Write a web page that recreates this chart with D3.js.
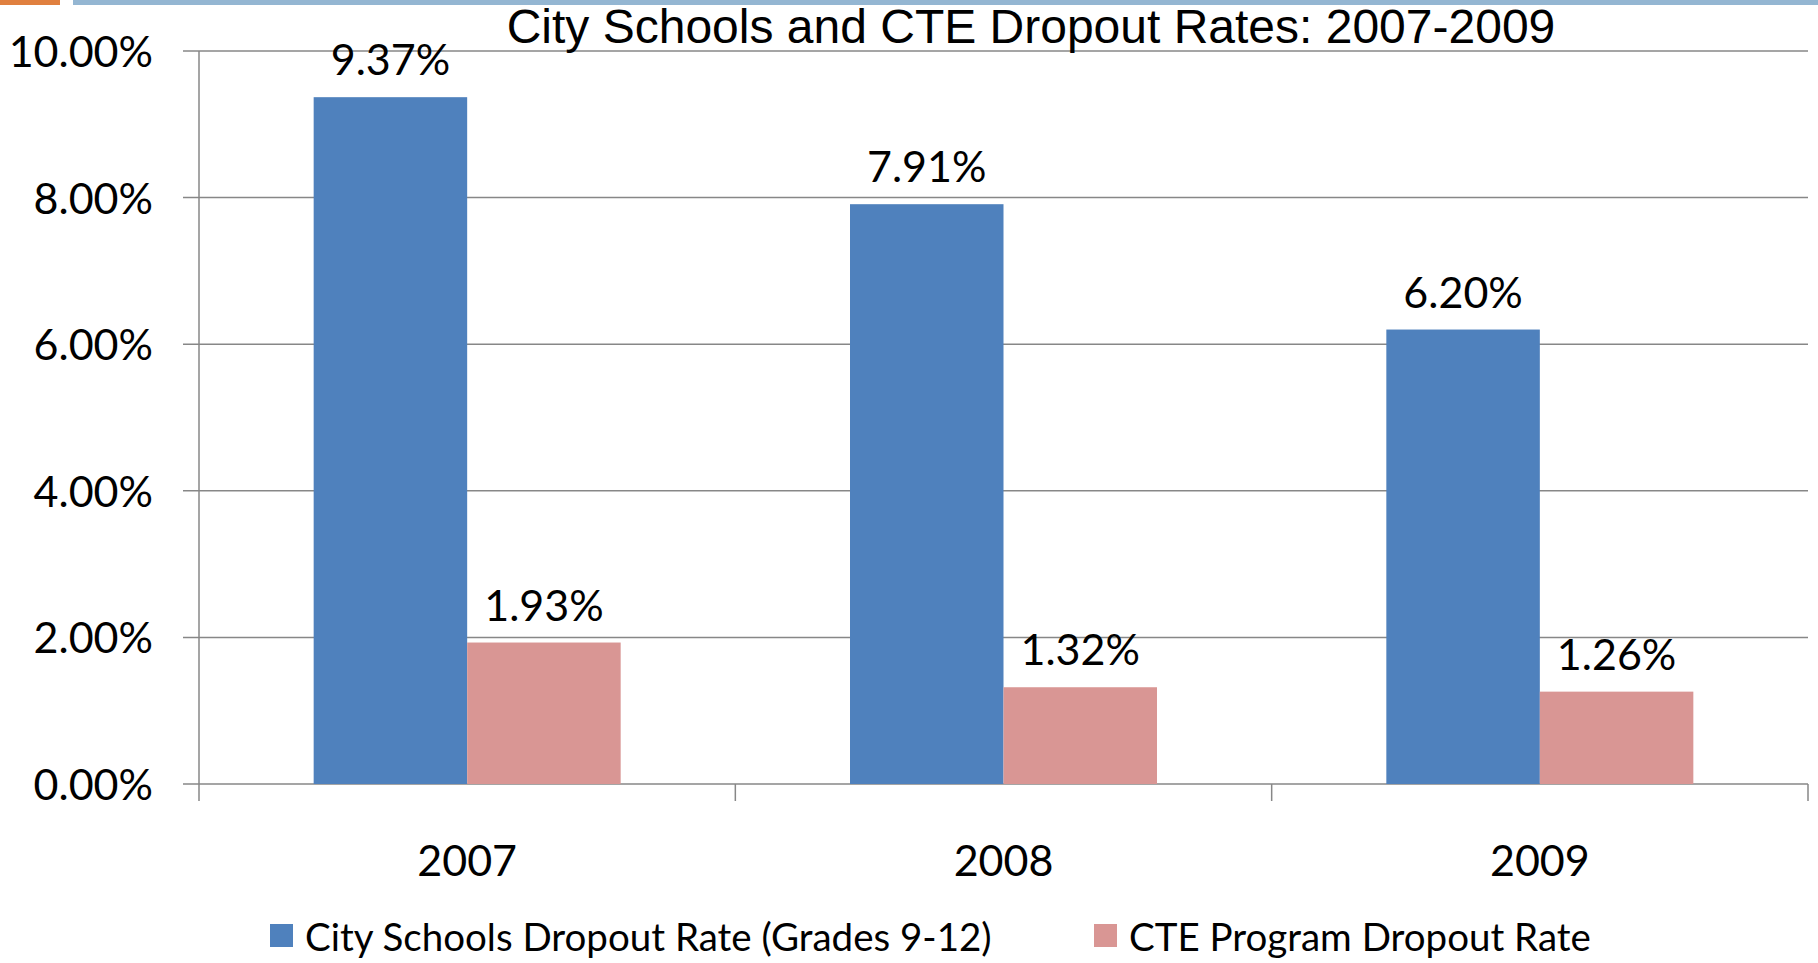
<!DOCTYPE html>
<html>
<head>
<meta charset="utf-8">
<script src="https://cdn.jsdelivr.net/npm/d3@7"></script>
<style>
  body { margin: 0; background: #fff; }
  svg { display: block; }
</style>
</head>
<body>
<svg id="chart" width="1818" height="963"></svg>
<script>
// chart data
var categories = ['2007', '2008', '2009']
var seriesNames = ['City Schools Dropout Rate (Grades 9-12)', 'CTE Program Dropout Rate']
var cityRates = [9.37, 7.91, 6.20]
var cteRates = [1.93, 1.32, 1.26]
var yTicks = [0, 2, 4, 6, 8, 10]
var colors = ['#4F81BD', '#D99694']

var margin = { top: 51, right: 10, bottom: 179, left: 199 }
var W = 1818, H = 963
var labelFont = 'Lato, Carlito, Calibri, sans-serif'
var labelSize = 43

var svg = d3.select('#chart')

// header strips
svg.append('rect').attr('x', 0).attr('y', 0).attr('width', 60).attr('height', 5).attr('fill', '#E0803F')
svg.append('rect').attr('x', 73).attr('y', 0).attr('width', W - 73).attr('height', 5).attr('fill', '#94B6D2')

var x = d3.scaleBand()
  .domain(categories)
  .range([margin.left, W - margin.right])

var xs = d3.scaleBand()
  .domain(seriesNames)
  .range([0, x.bandwidth()])
  .paddingOuter(0.747)

var y = d3.scaleLinear()
  .domain([0, 10])
  .range([H - margin.bottom, margin.top])

var gridColor = '#878787'

// gridlines
svg.append('g')
  .selectAll('line')
  .data(yTicks)
  .join('line')
  .attr('x1', margin.left - 16)
  .attr('x2', W - margin.right)
  .attr('y1', d => y(d))
  .attr('y2', d => y(d))
  .attr('stroke', gridColor)
  .attr('stroke-width', 1.5)

// y labels
var yAxis = d3.axisLeft(y)
  .tickValues(yTicks)
  .tickFormat(d => d3.format('.2f')(d) + '%')
  .tickSize(0)
  .tickPadding(0)

svg.append('g')
  .attr('transform', 'translate(153,0)')
  .call(yAxis)
  .call(g => g.select('.domain').remove())
  .selectAll('text')
  .attr('font-family', labelFont)
  .attr('font-size', labelSize)
  .attr('fill', '#000')
  .attr('dy', '0.36em')

// bars
var rows = categories.map((c, i) => ({ cat: c, vals: [cityRates[i], cteRates[i]] }))

var groups = svg.append('g')
  .selectAll('g')
  .data(rows)
  .join('g')
  .attr('transform', d => 'translate(' + x(d.cat) + ',0)')

groups.selectAll('rect')
  .data(d => d.vals.map((v, j) => ({ name: seriesNames[j], v: v, j: j })))
  .join('rect')
  .attr('x', d => xs(d.name))
  .attr('width', xs.bandwidth())
  .attr('y', d => y(d.v))
  .attr('height', d => y(0) - y(d.v))
  .attr('fill', d => colors[d.j])

groups.selectAll('text.val')
  .data(d => d.vals.map((v, j) => ({ name: seriesNames[j], v: v })))
  .join('text')
  .attr('class', 'val')
  .attr('x', d => xs(d.name) + xs.bandwidth() / 2)
  .attr('y', d => y(d.v) - 22)
  .attr('text-anchor', 'middle')
  .attr('font-family', labelFont)
  .attr('font-size', labelSize)
  .text(d => d3.format('.2f')(d.v) + '%')

// axes lines
var y0 = y(0)
svg.append('line')
  .attr('x1', margin.left).attr('x2', margin.left)
  .attr('y1', margin.top).attr('y2', y0 + 17)
  .attr('stroke', gridColor).attr('stroke-width', 1.5)

var bounds = categories.map(c => x(c)).concat([x.range()[1]])
svg.append('g')
  .selectAll('line')
  .data(bounds.slice(1))
  .join('line')
  .attr('x1', d => d).attr('x2', d => d)
  .attr('y1', y0).attr('y2', y0 + 17)
  .attr('stroke', gridColor).attr('stroke-width', 1.5)

var xAxis = d3.axisBottom(x).tickSize(0).tickPadding(0)
svg.append('g')
  .attr('transform', 'translate(0,' + (y0 + 92) + ')')
  .call(xAxis)
  .call(g => g.select('.domain').remove())
  .selectAll('text')
  .attr('dy', 0)
  .attr('font-family', labelFont)
  .attr('font-size', labelSize)
  .attr('fill', '#000')

// title
svg.append('text')
  .attr('x', 1031)
  .attr('y', 43)
  .attr('text-anchor', 'middle')
  .attr('font-family', '"Liberation Sans", Arial, sans-serif')
  .attr('font-size', 48)
  .text('City Schools and CTE Dropout Rates: 2007-2009')

// legend
var legendX = [270, 1094]
var legend = svg.append('g')
  .selectAll('g')
  .data(seriesNames)
  .join('g')
  .attr('transform', (d, i) => 'translate(' + legendX[i] + ',924)')

legend.append('rect')
  .attr('width', 23).attr('height', 23)
  .attr('fill', (d, i) => colors[i])

legend.append('text')
  .attr('x', 35)
  .attr('y', 27)
  .attr('font-family', labelFont)
  .attr('font-size', 38.5)
  .text(d => d)
</script>
</body>
</html>
